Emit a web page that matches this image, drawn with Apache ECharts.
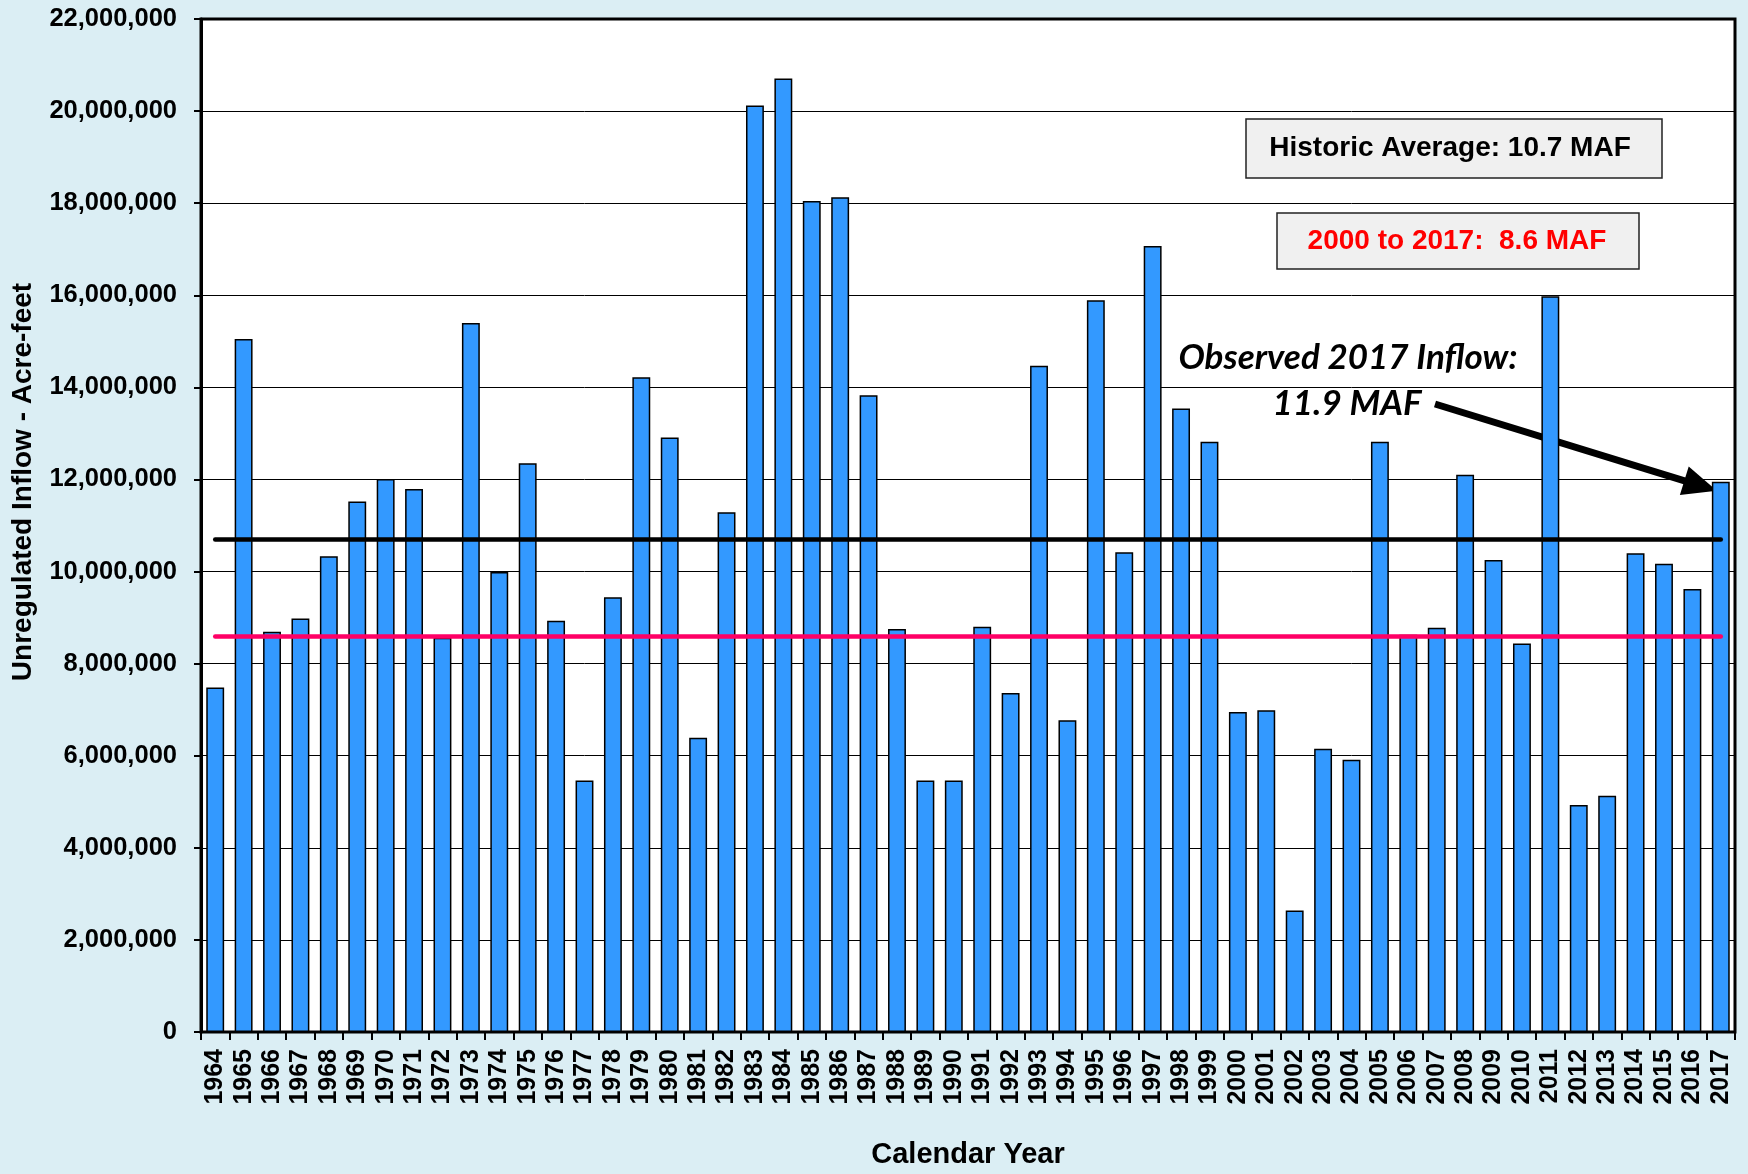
<!DOCTYPE html>
<html>
<head>
<meta charset="utf-8">
<script src="https://cdn.jsdelivr.net/npm/echarts@6/dist/echarts.min.js"></script>
<style>
  html, body { margin: 0; padding: 0; background: #DBEEF4; }
  #chart { width: 1748px; height: 1174px; }
</style>
</head>
<body>
<div id="chart"></div>
<script>
// ---- data ----
const years = ['1964','1965','1966','1967','1968','1969','1970','1971','1972','1973',
  '1974','1975','1976','1977','1978','1979','1980','1981','1982','1983',
  '1984','1985','1986','1987','1988','1989','1990','1991','1992','1993',
  '1994','1995','1996','1997','1998','1999','2000','2001','2002','2003',
  '2004','2005','2006','2007','2008','2009','2010','2011','2012','2013',
  '2014','2015','2016','2017'];
const inflow = [7480000, 15050000, 8690000, 8980000, 10330000, 11520000, 12010000, 11790000, 8560000, 15400000,
  9990000, 12350000, 8930000, 5460000, 9440000, 14220000, 12910000, 6390000, 11290000, 20120000,
  20710000, 18050000, 18130000, 13830000, 8750000, 5460000, 5460000, 8800000, 7360000, 14470000,
  6770000, 15890000, 10420000, 17070000, 13540000, 12820000, 6950000, 6990000, 2640000, 6150000,
  5910000, 12820000, 8630000, 8780000, 12100000, 10250000, 8440000, 15980000, 4930000, 5130000,
  10400000, 10170000, 9620000, 11950000];
const historicAvg = 10700000;
const recentAvg = 8600000;
const yMin = 0, yMax = 22000000, yStep = 2000000;
const xTitle = 'Calendar Year';
const yTitle = 'Unregulated Inflow - Acre-feet';
const box1Text = 'Historic Average: 10.7 MAF';
const box2Text = '2000 to 2017:  8.6 MAF';
const noteLine1 = 'Observed 2017 Inflow:';
const noteLine2 = '11.9 MAF';

const FONT = '"Liberation Sans", Arial, sans-serif';
const NOTE_FONT = 'italic bold 35px Lato, "Open Sans", sans-serif';
const chart = echarts.init(document.getElementById('chart'));

const option = {
  animation: false,
  backgroundColor: '#DBEEF4',
  grid: { left: 201, right: 13, top: 19, bottom: 140, show: true,
          backgroundColor: '#ffffff', borderColor: '#000', borderWidth: 3 },
  xAxis: {
    type: 'category', data: years,
    axisLine: { lineStyle: { color: '#000', width: 2 } },
    axisTick: { show: true, length: 8, interval: 0, lineStyle: { color: '#000', width: 2 } },
    axisLabel: { rotate: 90, interval: 0, fontSize: 25, fontWeight: 'bold', color: '#000',
                 fontFamily: FONT, margin: 17 },
    name: xTitle, nameLocation: 'middle', nameGap: 108,
    nameTextStyle: { fontSize: 29, fontWeight: 'bold', color: '#000', fontFamily: FONT }
  },
  yAxis: {
    type: 'value', min: yMin, max: yMax, interval: yStep,
    axisLine: { show: true, lineStyle: { color: '#000', width: 3 } },
    axisTick: { show: true, length: 7, lineStyle: { color: '#000', width: 2 } },
    axisLabel: { fontSize: 25.5, fontWeight: 'bold', color: '#000', fontFamily: FONT, margin: 24,
                 formatter: v => v.toLocaleString('en-US') },
    splitLine: { lineStyle: { color: '#000', width: 1 } }
  },
  series: [{
    type: 'bar', data: inflow,
    barCategoryGap: '37%',
    itemStyle: { color: '#3399FF', borderColor: '#000', borderWidth: 1.5 },
    markLine: {
      silent: true, symbol: 'none', label: { show: false },
      data: [
        [{ coord: [years[0], historicAvg], lineStyle: { color: '#000', width: 4.5, type: 'solid', cap: 'round' } },
         { coord: [years[years.length - 1], historicAvg] }],
        [{ coord: [years[0], recentAvg], lineStyle: { color: '#FF0066', width: 4.5, type: 'solid', cap: 'round' } },
         { coord: [years[years.length - 1], recentAvg] }]
      ]
    }
  }]
};
chart.setOption(option);

// annotation graphics
const tip0 = chart.convertToPixel({ seriesIndex: 0 }, [years[years.length - 1], inflow[inflow.length - 1]]);
const tip = [tip0[0] - 4, tip0[1] + 9];
const tail = [1435, 404];
const dx = tip[0] - tail[0], dy = tip[1] - tail[1];
const len = Math.sqrt(dx * dx + dy * dy);
const ux = dx / len, uy = dy / len;
const nx = -uy, ny = ux;
const headL = 34, headW = 15;
const base = [tip[0] - ux * headL, tip[1] - uy * headL];

chart.setOption({
  graphic: [
    { type: 'text', x: 23, y: 482, rotation: Math.PI / 2,
      style: { text: yTitle, font: 'bold 28px ' + FONT, fill: '#000', align: 'center', verticalAlign: 'middle' } },
    { type: 'rect', shape: { x: 1246, y: 119, width: 416, height: 59 },
      style: { fill: '#F0F0F0', stroke: '#222', lineWidth: 1.5 } },
    { type: 'text', x: 1450, y: 148,
      style: { text: box1Text, font: 'bold 28px ' + FONT, fill: '#000', align: 'center', verticalAlign: 'middle' } },
    { type: 'rect', shape: { x: 1277, y: 213, width: 362, height: 56 },
      style: { fill: '#F0F0F0', stroke: '#222', lineWidth: 1.5 } },
    { type: 'text', x: 1457, y: 241,
      style: { text: box2Text, font: 'bold 28px ' + FONT, fill: '#FF0000', align: 'center', verticalAlign: 'middle' } },
    { type: 'text', x: 1348, y: 358,
      style: { text: noteLine1, font: NOTE_FONT, fill: '#000', align: 'center', verticalAlign: 'middle' } },
    { type: 'text', x: 1347, y: 404,
      style: { text: noteLine2, font: NOTE_FONT, fill: '#000', align: 'center', verticalAlign: 'middle' } },
    { type: 'line', shape: { x1: tail[0], y1: tail[1], x2: base[0] + ux * 2, y2: base[1] + uy * 2 },
      style: { stroke: '#000', lineWidth: 7 } },
    { type: 'polygon', shape: { points: [tip, [base[0] + nx * headW, base[1] + ny * headW], [base[0] - nx * headW, base[1] - ny * headW]] },
      style: { fill: '#000' } }
  ]
});
</script>
</body>
</html>
